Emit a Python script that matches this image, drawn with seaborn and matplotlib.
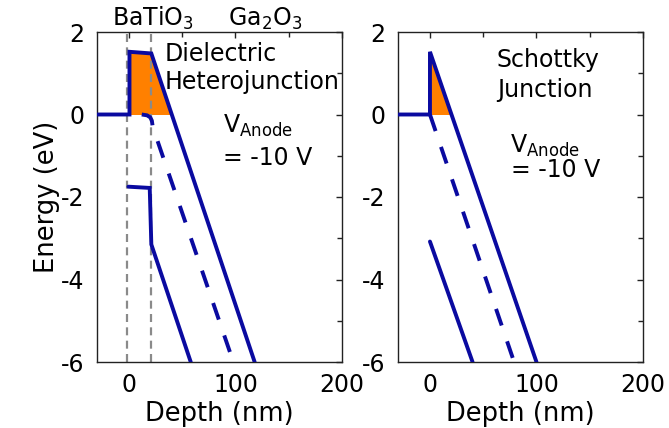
import numpy as np
import matplotlib
matplotlib.use("Agg")
import matplotlib.pyplot as plt
import seaborn as sns

# ---------------- data ----------------
# Left panel: dielectric heterojunction (BaTiO3 / Ga2O3)
left_cb_x = [-30, 0.5, 0.5, 21, 118]
left_cb_y = [0, 0, 1.52, 1.48, -6]
left_ef_x = [12, 17, 20, 21.5, 22.3, 98]
left_ef_y = [0, -0.02, -0.07, -0.15, -0.3, -6]
left_vb_x = [-0.5, 19.5, 21, 58]
left_vb_y = [-1.75, -1.78, -3.15, -6]
interfaces_x = [-1.5, 21]

# Right panel: Schottky junction
right_cb_x = [-30, 0, 0, 100]
right_cb_y = [0, 0, 1.52, -6]
right_ef_x = [0, 79]
right_ef_y = [0, -6]
right_vb_x = [0, 40]
right_vb_y = [-3.08, -6]

x_major = [0, 100, 200]
x_minor = [50, 150]
y_major = [-6, -4, -2, 0, 2]
y_minor = [-5, -3, -1, 1]

# ---------------- style ----------------
sns.set_style("white")
plt.rcParams["font.family"] = ["DejaVu Sans"]
plt.rcParams["mathtext.fontset"] = "dejavusans"
plt.rcParams["axes.unicode_minus"] = False
for k in ["text.color", "axes.labelcolor", "xtick.labelcolor", "ytick.labelcolor"]:
    plt.rcParams[k] = "black"

BLUE = "#0a0aa0"
ORANGE = "#ff8000"
GREY = "#8a8a8a"
LW = 2.8
FS_TICK = 17
FS_TEXT = 17

fig = plt.figure(figsize=(6.69, 4.28), dpi=100)
fig.patch.set_facecolor("white")
W, H = 669, 428
ax1 = fig.add_axes([97 / W, 1 - 362 / H, 245 / W, 330 / H])
ax2 = fig.add_axes([398 / W, 1 - 362 / H, 245 / W, 330 / H])


def solid(ax, x, y):
    sns.lineplot(x=x, y=y, ax=ax, sort=False, estimator=None, color=BLUE,
                 linewidth=LW, zorder=3)
    ax.lines[-1].set_solid_joinstyle("miter")


def dashed(ax, x, y):
    sns.lineplot(x=x, y=y, ax=ax, sort=False, estimator=None, color=BLUE,
                 linewidth=LW, zorder=3)
    ln = ax.lines[-1]
    ln.set_linestyle((0, (4.5, 4.3)))
    ln.set_dash_capstyle("butt")


def style_axes(ax):
    ax.set_xlim(-30, 200)
    ax.set_ylim(-6, 2)
    ax.set_xticks(x_major)
    ax.set_xticks(x_minor, minor=True)
    ax.set_yticks(y_major)
    ax.set_yticks(y_minor, minor=True)
    ax.tick_params(which="both", direction="in", top=True, right=True,
                   color="#222222", width=1)
    ax.tick_params(which="major", length=4.5, labelsize=FS_TICK)
    ax.tick_params(which="minor", length=3.5)
    ax.tick_params(axis="y", pad=9)
    ax.tick_params(axis="x", pad=8)
    for s in ax.spines.values():
        s.set_color("#222222")
        s.set_linewidth(1.0)
    ax.set_xlabel("Depth (nm)", fontsize=18.5, labelpad=3, color="black")
    ax.set_facecolor("white")


# ---------------- left panel ----------------
for xv in interfaces_x:
    ax1.axvline(xv, color=GREY, linewidth=1.6, linestyle=(0, (3.6, 2.4)), zorder=2)
lx = np.array(left_cb_x[1:], dtype=float)
ly = np.array(left_cb_y[1:], dtype=float)
ax1.fill_between(lx, ly, 0, where=ly >= 0, interpolate=True,
                 color=ORANGE, linewidth=0, zorder=1)
solid(ax1, left_cb_x, left_cb_y)
dashed(ax1, left_ef_x, left_ef_y)
solid(ax1, left_vb_x, left_vb_y)
style_axes(ax1)
ax1.set_ylabel("Energy (eV)", fontsize=18.5, labelpad=1, color="black")

ax1.text(0.275, 0.913, "Dielectric", transform=ax1.transAxes,
         fontsize=FS_TEXT, ha="left", va="baseline")
ax1.text(0.275, 0.826, "Heterojunction", transform=ax1.transAxes,
         fontsize=FS_TEXT, ha="left", va="baseline")
ax1.text(0.516, 0.694, r"V$_{\mathregular{Anode}}$", transform=ax1.transAxes,
         fontsize=FS_TEXT, ha="left", va="baseline")
ax1.text(0.516, 0.597, "= -10 V", transform=ax1.transAxes,
         fontsize=FS_TEXT, ha="left", va="baseline")
ax1.text(0.061, 1.018, r"BaTiO$_{\mathregular{3}}$", transform=ax1.transAxes,
         fontsize=FS_TEXT, ha="left", va="baseline")
ax1.text(0.535, 1.018, r"Ga$_{\mathregular{2}}$O$_{\mathregular{3}}$",
         transform=ax1.transAxes, fontsize=FS_TEXT, ha="left", va="baseline")

# ---------------- right panel ----------------
rx = np.array(right_cb_x[1:], dtype=float)
ry = np.array(right_cb_y[1:], dtype=float)
ax2.fill_between(rx, ry, 0, where=ry >= 0, interpolate=True,
                 color=ORANGE, linewidth=0, zorder=1)
solid(ax2, right_cb_x, right_cb_y)
dashed(ax2, right_ef_x, right_ef_y)
solid(ax2, right_vb_x, right_vb_y)
style_axes(ax2)
ax2.set_ylabel("")

ax2.text(0.404, 0.895, "Schottky", transform=ax2.transAxes,
         fontsize=FS_TEXT, ha="left", va="baseline")
ax2.text(0.404, 0.804, "Junction", transform=ax2.transAxes,
         fontsize=FS_TEXT, ha="left", va="baseline")
ax2.text(0.457, 0.633, r"V$_{\mathregular{Anode}}$", transform=ax2.transAxes,
         fontsize=FS_TEXT, ha="left", va="baseline")
ax2.text(0.461, 0.561, "= -10 V", transform=ax2.transAxes,
         fontsize=FS_TEXT, ha="left", va="baseline")

fig.savefig("out.png", dpi=100, facecolor="white")
